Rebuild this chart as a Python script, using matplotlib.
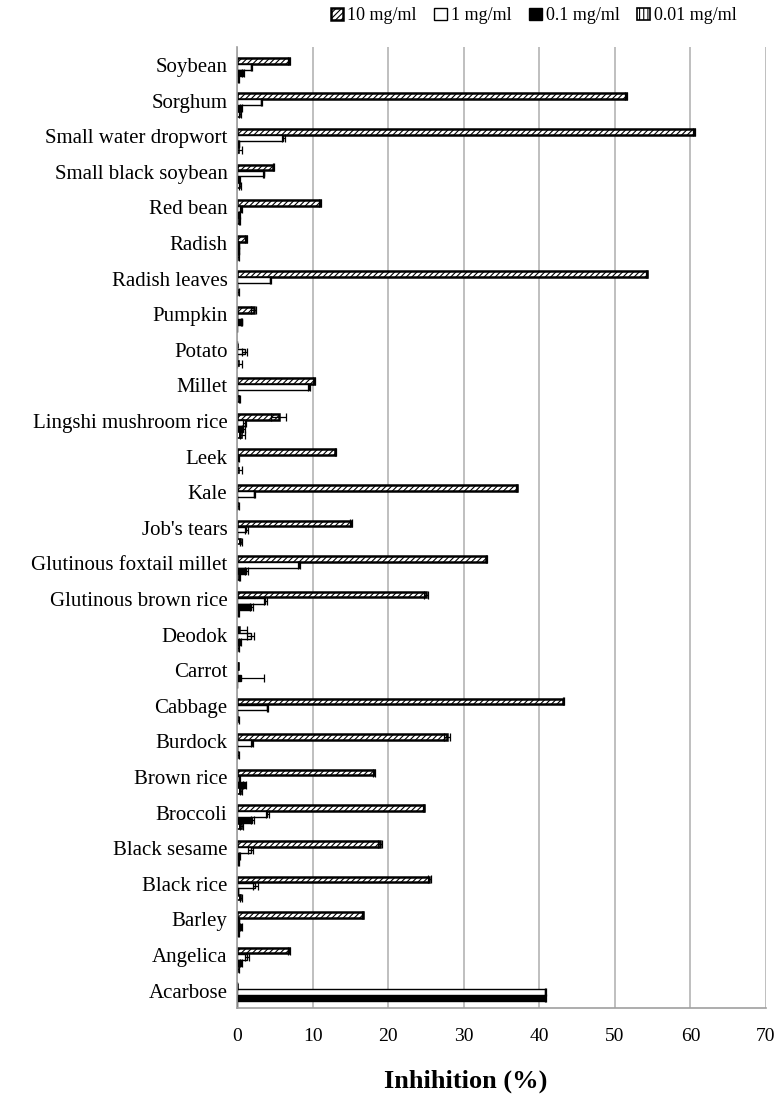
import numpy as np
import matplotlib.pyplot as plt

plt.rcParams['font.family'] = ['Liberation Serif', 'DejaVu Serif']
plt.rcParams['hatch.linewidth'] = 0.8

# categories listed bottom -> top
categories = ["Acarbose", "Angelica", "Barley", "Black rice", "Black sesame", "Broccoli",
              "Brown rice", "Burdock", "Cabbage", "Carrot", "Deodok", "Glutinous brown rice",
              "Glutinous foxtail millet", "Job's tears", "Kale", "Leek", "Lingshi mushroom rice",
              "Millet", "Potato", "Pumpkin", "Radish leaves", "Radish", "Red bean",
              "Small black soybean", "Small water dropwort", "Sorghum", "Soybean"]

series_names = ["10 mg/ml", "1 mg/ml", "0.1 mg/ml", "0.01 mg/ml"]

v10 = [0, 6.9, 16.6, 25.4, 18.9, 24.7, 18.1, 27.8, 43.2, 0.1, 0.3, 25.0,
       33.0, 15.1, 37.0, 13.0, 5.5, 10.2, 0, 2.2, 54.2, 1.2, 11.0,
       4.8, 60.5, 51.5, 6.9]
e10 = [0, 0.1, 0.1, 0.2, 0.3, 0.1, 0.1, 0.4, 0.1, 0, 1.0, 0.3,
       0.1, 0.1, 0.1, 0.1, 1.0, 0.1, 0, 0.3, 0.1, 0.1, 0.1,
       0.1, 0.1, 0.1, 0.1]
v1 = [40.8, 1.3, 0.2, 2.4, 1.8, 4.0, 0.3, 2.0, 4.0, 0, 1.8, 3.7,
      8.2, 1.2, 2.3, 0.1, 1.0, 9.5, 1.0, 0, 4.4, 0.2, 0.5,
      3.5, 6.1, 3.2, 1.9]
e1 = [0.1, 0.3, 0.1, 0.3, 0.3, 0.2, 0.1, 0.1, 0.1, 0, 0.5, 0.2,
      0.1, 0.2, 0.1, 0.1, 0.2, 0.1, 0.3, 0, 0.1, 0.1, 0.1,
      0.1, 0.2, 0.1, 0.1]
v01 = [40.8, 0.5, 0.5, 0.1, 0.3, 2.0, 1.0, 0, 0, 0.5, 0.4, 1.9,
       1.2, 0, 0, 0, 0.8, 0, 0, 0.6, 0, 0.2, 0.3,
       0.3, 0.2, 0.5, 0.8]
e01 = [0.1, 0.1, 0.1, 0, 0.1, 0.2, 0.2, 0, 0, 3.0, 0.1, 0.2,
       0.2, 0, 0, 0, 0.2, 0, 0, 0.1, 0, 0.1, 0.1,
       0.1, 0.1, 0.1, 0.1]
v001 = [0, 0.1, 0.2, 0.5, 0.2, 0.6, 0.5, 0.1, 0.1, 0, 0.1, 0.2,
        0.3, 0.5, 0.1, 0.3, 0.7, 0.3, 0.3, 0, 0.1, 0.1, 0.3,
        0.4, 0.3, 0.4, 0.2]
e001 = [0, 0.1, 0.1, 0.1, 0.1, 0.2, 0.1, 0.1, 0.1, 0, 0.1, 0.1,
        0.1, 0.1, 0.1, 0.3, 0.3, 0.1, 0.3, 0, 0.1, 0.1, 0.1,
        0.1, 0.3, 0.1, 0.1]

fig = plt.figure(figsize=(7.8, 10.96), dpi=100)
ax = fig.add_axes([0.304, 0.080, 0.678, 0.877])

y = np.arange(len(categories))
h = 0.16
offs = [0.12, -0.05, -0.22, -0.39]
styles = [dict(color='white', edgecolor='black', hatch='//////', linewidth=1.8),
          dict(color='white', edgecolor='black', linewidth=1.0),
          dict(color='black', edgecolor='black', linewidth=1.0),
          dict(color='white', edgecolor='black', hatch='||||', linewidth=1.2)]
vals = [v10, v1, v01, v001]
errs = [e10, e1, e01, e001]

for name, v, e, o, st in zip(series_names, vals, errs, offs, styles):
    ax.barh(y + o, v, height=h, xerr=e, label=name,
            error_kw=dict(ecolor='black', elinewidth=0.9, capsize=3, capthick=0.9), **st)

ax.set_xlim(0, 70)
ax.set_ylim(-0.5, len(categories) - 0.5)
ax.set_xticks(np.arange(0, 71, 10))
ax.set_yticks(y)
ax.set_yticklabels(categories, fontsize=15)
ax.tick_params(axis='x', labelsize=14, length=0, pad=14)
ax.tick_params(axis='y', length=0, pad=7)
ax.xaxis.grid(True, color='#b4b4b4', linewidth=1.2)
ax.set_axisbelow(True)
for s in ['top', 'right']:
    ax.spines[s].set_visible(False)
ax.spines['left'].set_color('#a0a0a0')
ax.spines['bottom'].set_color('#a0a0a0')
ax.spines['left'].set_linewidth(1.2)
ax.spines['bottom'].set_linewidth(1.2)

ax.set_xlabel('Inhihition (%)', fontsize=19, fontweight='bold')
ax.xaxis.set_label_coords(0.433, -0.064)

fig.legend(loc='upper center', bbox_to_anchor=(0.684, 1.008), ncol=4, frameon=False,
           fontsize=13, handlelength=0.7, handleheight=0.7, handletextpad=0.2,
           columnspacing=1.0)

fig.savefig('out.png', dpi=100)
